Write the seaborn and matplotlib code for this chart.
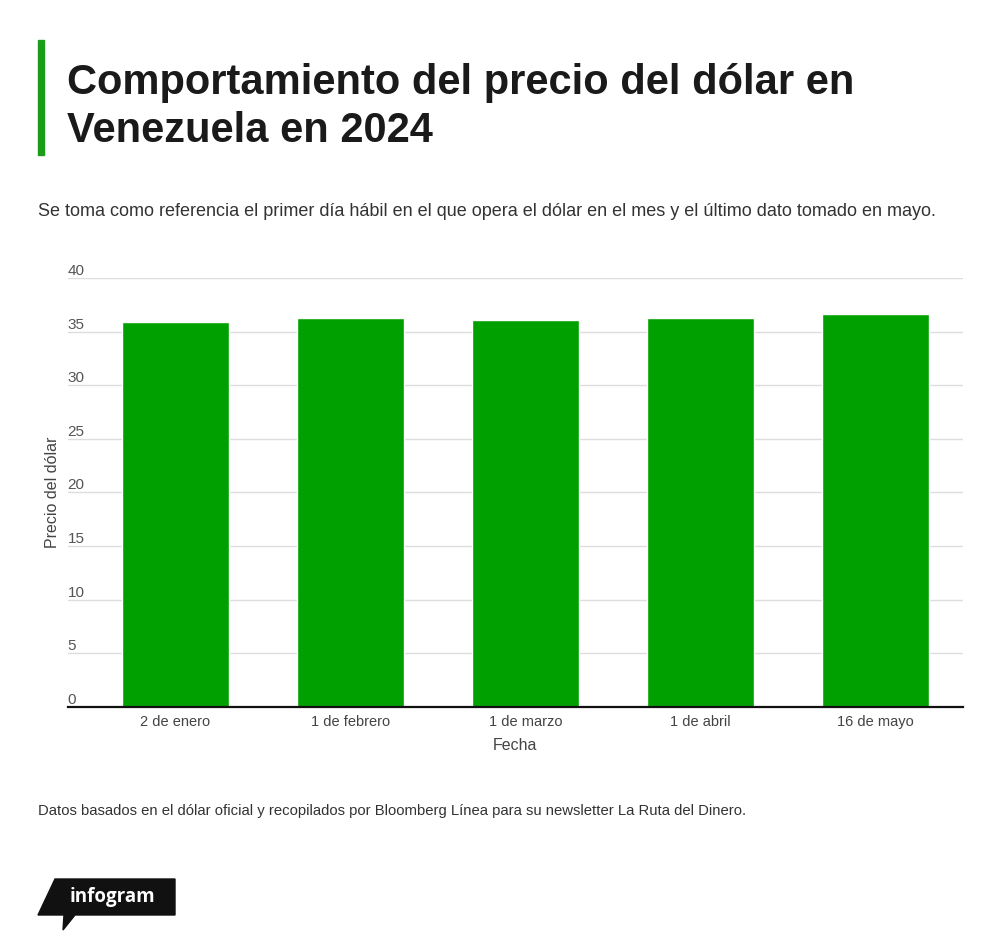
"""
Comportamiento del precio del dolar en Venezuela, 2024.
"""

import matplotlib.pyplot as plt
import seaborn as sns
import pandas as pd
from matplotlib.patches import Polygon, Rectangle

sns.set_style("white")
plt.rcParams['font.family'] = ['Liberation Sans', 'DejaVu Sans']

# Data
fechas = ['2 de enero', '1 de febrero', '1 de marzo', '1 de abril', '16 de mayo']
precios = [35.85, 36.25, 36.05, 36.25, 36.6]
y_ticks = [0, 5, 10, 15, 20, 25, 30, 35, 40]

df = pd.DataFrame({'Fecha': fechas, 'Precio': precios})

GREEN = '#00a000'

fig = plt.figure(figsize=(10, 9.48), dpi=100)
ax = fig.add_axes([0.0677, 0.2542, 0.8953, 0.4526])

sns.barplot(data=df, x='Fecha', y='Precio', color=GREEN, saturation=1,
            width=0.61, ax=ax, zorder=3)

ax.set_ylim(0, 40)
ax.set_xlim(-0.614, 4.5)
ax.set_yticks(y_ticks)
ax.set_yticklabels([str(t) for t in y_ticks], ha='left', va='bottom')
ax.tick_params(axis='y', length=0, pad=0, labelsize=11, labelcolor='#555555')
ax.tick_params(axis='x', length=0, pad=6, labelsize=10.5, labelcolor='#444444')
ax.yaxis.grid(True, color='#dddddd', linewidth=1, zorder=0)
ax.set_axisbelow(True)

for s in ['top', 'right', 'left']:
    ax.spines[s].set_visible(False)
ax.spines['bottom'].set_color('#111111')
ax.spines['bottom'].set_linewidth(1.6)
ax.spines['bottom'].set_zorder(5)

ax.set_xlabel('Fecha', fontsize=11.5, color='#444444', labelpad=6)
ax.set_ylabel('Precio del dólar', fontsize=11.5, color='#444444')
ax.yaxis.set_label_coords(-0.009, 0.5)

# Title block
fig.patches.append(Rectangle((0.038, 1 - 155 / 948), 0.006, 115 / 948,
                             transform=fig.transFigure, color='#1a9e1a'))
fig.text(0.067, 1 - 94 / 948, 'Comportamiento del precio del dólar en',
         fontsize=30, fontweight='bold', color='#1a1a1a', va='baseline')
fig.text(0.067, 1 - 142 / 948, 'Venezuela en 2024',
         fontsize=30, fontweight='bold', color='#1a1a1a', va='baseline')

fig.text(0.038, 1 - 212 / 948,
         'Se toma como referencia el primer día hábil en el que opera el dólar '
         'en el mes y el último dato tomado en mayo.',
         fontsize=13, color='#333333', va='center')

fig.text(0.038, 1 - 811 / 948,
         'Datos basados en el dólar oficial y recopilados por Bloomberg Línea '
         'para su newsletter La Ruta del Dinero.',
         fontsize=10.7, color='#333333', va='center')

# infogram badge
px = lambda x, y: (x / 1000, 1 - y / 948)
badge = Polygon([px(55, 879), px(175, 879), px(175, 915), px(75, 915),
                 px(63, 930), px(64, 915), px(38, 915)],
                closed=True, transform=fig.transFigure, color='#111111')
fig.patches.append(badge)
fig.text(0.112, 1 - 897 / 948, 'infogram', fontsize=13.5, fontweight='bold',
         color='white', ha='center', va='center', family=['Open Sans', 'DejaVu Sans'])

plt.savefig('out.png', dpi=100)
plt.close()
